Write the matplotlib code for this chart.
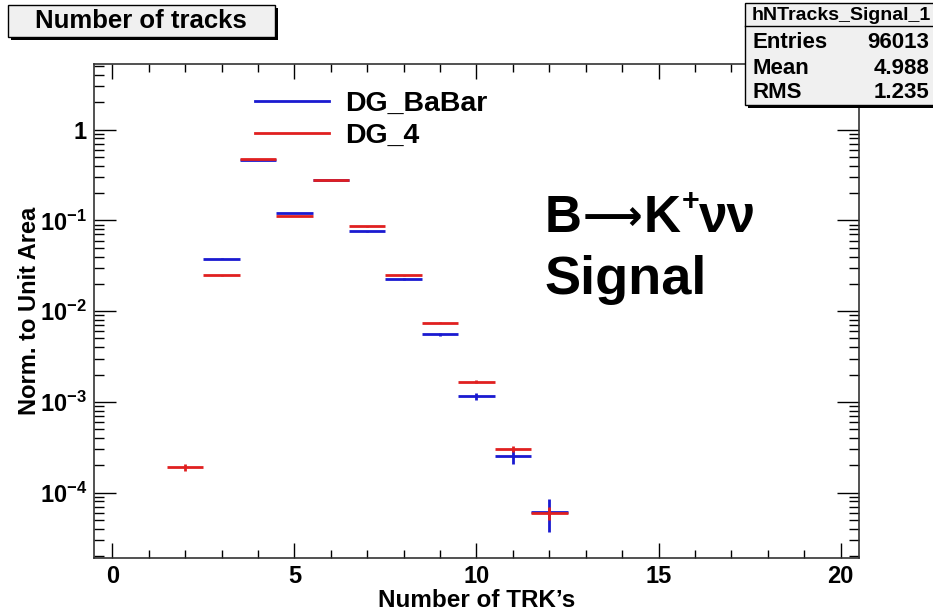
'''
Number of tracks: B -> K+ nu nu signal, DG_BaBar vs DG_4
'''

import numpy as np
import matplotlib.pyplot as plt
from matplotlib.patches import Rectangle
from matplotlib.lines import Line2D
from matplotlib.ticker import LogLocator, MultipleLocator, FixedLocator, FuncFormatter

plt.rcParams['font.family'] = ['Liberation Sans', 'DejaVu Sans']
plt.rcParams['font.weight'] = 'bold'
plt.rcParams['mathtext.fontset'] = 'custom'
plt.rcParams['mathtext.rm'] = 'Liberation Sans:bold'
plt.rcParams['mathtext.it'] = 'Liberation Sans:bold'
plt.rcParams['mathtext.bf'] = 'Liberation Sans:bold'

# dados
N_TRK = [2, 3, 4, 5, 6, 7, 8, 9, 10, 11, 12]
BABAR = [np.nan, 0.0378, 0.46, 0.121, 0.280, 0.0762, 0.0226, 0.00555, 0.00115, 2.56e-4, 6.1e-5]
BABAR_ERR = [0, 6e-4, 2e-3, 1.1e-3, 1.7e-3, 9e-4, 4.9e-4, 2.4e-4, 1.1e-4, 5e-5, 2.4e-5]
DG4 = [1.92e-4, 0.0248, 0.47, 0.111, 0.280, 0.0859, 0.0248, 0.00745, 0.00167, 3.03e-4, 6.0e-5]
DG4_ERR = [1.7e-5, 2.5e-4, 1.1e-3, 5e-4, 8e-4, 4e-4, 2.5e-4, 1.3e-4, 6e-5, 2.2e-5, 1.0e-5]

BLUE = '#1a1ad0'
RED = '#e02020'

fig = plt.figure(figsize=(9.33, 6.15), dpi=100)
W, H = 933, 615
ax = fig.add_axes([94 / W, 1 - 558 / H, (859 - 94) / W, (558 - 64) / H])

ax.errorbar(N_TRK, BABAR, xerr=0.5, yerr=BABAR_ERR, fmt='none', ecolor=BLUE,
            elinewidth=2, capsize=0, label='DG_BaBar')
ax.errorbar(N_TRK, DG4, xerr=0.5, yerr=DG4_ERR, fmt='none', ecolor=RED,
            elinewidth=2, capsize=0, label='DG_4')

ax.set_yscale('log')
ax.set_xlim(-0.5, 20.5)
ax.set_ylim(1.9e-5, 5.3)

# eixos no estilo ROOT
ax.xaxis.set_major_locator(MultipleLocator(5))
ax.xaxis.set_minor_locator(MultipleLocator(1))
ax.yaxis.set_major_locator(FixedLocator([1e-4, 1e-3, 1e-2, 1e-1, 1]))
ax.yaxis.set_minor_locator(LogLocator(base=10, subs=np.arange(2, 10)))


def fmt_y(v, pos):
    e = int(round(np.log10(v)))
    if e == 0:
        return '1'
    return r'$10^{%d}$' % e


ax.yaxis.set_major_formatter(FuncFormatter(fmt_y))
ax.tick_params(which='both', direction='in', top=True, right=True, labelsize=17)
ax.tick_params(axis='x', which='major', length=11, width=1, pad=5)
ax.tick_params(axis='x', which='minor', length=6, width=1)
ax.tick_params(axis='y', which='major', length=16, width=1, pad=5)
ax.tick_params(axis='y', which='minor', length=7, width=1)
for s in ax.spines.values():
    s.set_linewidth(1.2)
    s.set_color('#333333')

ax.set_xlabel("Number of TRK’s", fontsize=17.5, fontweight='bold')
ax.set_ylabel('Norm. to Unit Area', fontsize=17, fontweight='bold')
ax.xaxis.set_label_coords(0.5, -0.063)
ax.yaxis.set_label_coords(-0.069, 0.5)

leg = ax.legend(handles=[Line2D([], [], color=BLUE, lw=2), Line2D([], [], color=RED, lw=2)],
                labels=['DG_BaBar', 'DG_4'], loc='upper left',
                bbox_to_anchor=(255 / W, 1 - 91 / H), bbox_transform=fig.transFigure,
                frameon=False, fontsize=20.5, handlelength=2.6, handletextpad=0.55,
                labelspacing=0.22, borderpad=0, borderaxespad=0)
for t in leg.get_texts():
    t.set_fontweight('bold')

# B -> K+ nu nu, montado em pedaços (texto, tamanho, base em px, folga em px)
PIECES = [('B', 37, 232, 0), ('⟶', 30, 230, 1), ('K', 37, 232, 1),
          ('+', 22, 210, 1), ('νν', 37, 232, 0)]
x_px = 545
fig.canvas.draw()
for txt, size, base, gap in PIECES:
    t = fig.text((x_px + gap) / W, 1 - base / H, txt, fontsize=size, fontweight='bold',
                 va='baseline', ha='left')
    x_px = t.get_window_extent(fig.canvas.get_renderer()).x1
fig.text(545 / W, 1 - 280 / H, 'Signal', fontsize=39, fontweight='bold',
         va='center', ha='left')

# caixa do título
sh = 3
fig.add_artist(Rectangle(((8 + sh) / W, 1 - (37 + sh) / H), (275 - 8) / W, (37 - 5) / H,
                         transform=fig.transFigure, facecolor='black', edgecolor='none'))
fig.add_artist(Rectangle((8 / W, 1 - 37 / H), (275 - 8) / W, (37 - 5) / H,
                         transform=fig.transFigure, facecolor='#f0f0f0', edgecolor='black', lw=1))
fig.text(141 / W, 1 - 21 / H, 'Number of tracks', fontsize=18.5, fontweight='bold',
         ha='center', va='center')

# caixa de estatísticas
fig.add_artist(Rectangle(((745 + sh) / W, 1 - (105 + sh) / H), (933 - 745) / W, (105 - 3) / H,
                         transform=fig.transFigure, facecolor='black', edgecolor='none'))
fig.add_artist(Rectangle((745 / W, 1 - 105 / H), (940 - 745) / W, (105 - 3) / H,
                         transform=fig.transFigure, facecolor='#f0f0f0', edgecolor='black', lw=1))
fig.add_artist(Line2D([745 / W, 1], [1 - 26 / H, 1 - 26 / H], transform=fig.transFigure,
                      color='black', lw=1))
fig.text(841 / W, 1 - 15 / H, 'hNTracks_Signal_1', fontsize=14, fontweight='bold',
         ha='center', va='center')
stats = [('Entries', '96013'), ('Mean', '4.988'), ('RMS', '1.235')]
for i, (k, v) in enumerate(stats):
    y = 1 - (43 + 25 * i) / H
    fig.text(752 / W, y, k, fontsize=16, fontweight='bold', ha='left', va='center')
    fig.text(929 / W, y, v, fontsize=16, fontweight='bold', ha='right', va='center')

fig.savefig('out.png', dpi=100)
